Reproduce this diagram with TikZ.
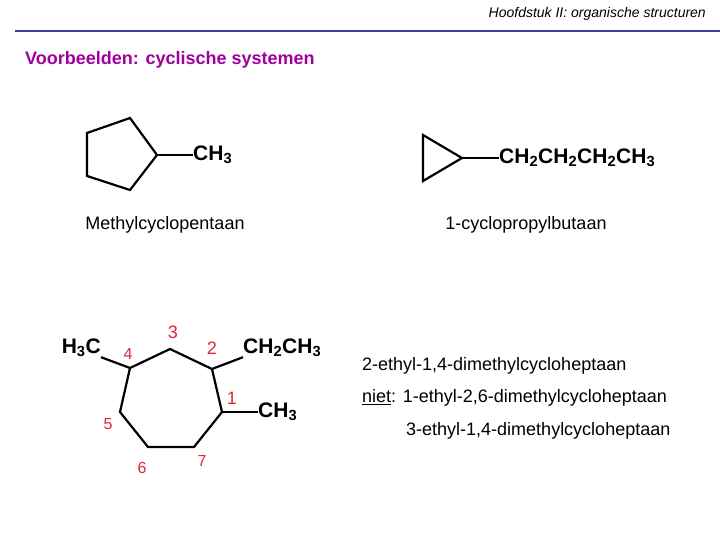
\documentclass[tikz,border=0pt]{standalone}
\usepackage{fontspec}
\setmainfont{Liberation Sans}
\usetikzlibrary{positioning}
\definecolor{numred}{RGB}{220,40,50}
\definecolor{titlepurple}{RGB}{160,0,160}
\definecolor{rulerblue}{RGB}{60,60,170}
\tikzset{bond/.style={line width=2.2pt,line join=miter}}
\tikzset{group/.style={font=\fontsize{21}{21}\selectfont\bfseries,inner sep=0pt}}
\tikzset{num/.style={text=numred,font=\fontsize{18}{18}\selectfont,inner sep=0pt}}
\tikzset{smallnum/.style={num,font=\fontsize{16}{16}\selectfont}}
\tikzset{label/.style={font=\fontsize{18}{18}\selectfont,inner sep=0pt}}
\begin{document}
\begin{tikzpicture}[x=1pt,y=-1pt]
  \useasboundingbox (0,0) rectangle (720,540);
  \node[anchor=east,font=\fontsize{14}{14}\selectfont\itshape,inner sep=0pt] (head) at (706,14) {Hoofdstuk II: organische structuren};
  \draw[rulerblue,line width=1.5pt] (15,31) -- (720,31);
  \node[anchor=west,text=titlepurple,font=\fontsize{18}{18}\selectfont\bfseries,inner sep=0pt] (title) at (25,60) {Voorbeelden: cyclische systemen};
  % cyclopentane
  \coordinate (p1) at (130,118);
  \coordinate (p2) at (87,133);
  \coordinate (p3) at (87,176);
  \coordinate (p4) at (130,190);
  \coordinate (p5) at (157,155);
  \node[group,anchor=west] (me1) at (193,155) {CH\textsubscript{3}};
  \draw[bond] (p1) -- (p2) -- (p3) -- (p4) -- (p5) -- cycle;
  \draw[bond] (p5) -- (me1.west);
  \node[label] (name1) at (165,225) {Methylcyclopentaan};
  % cyclopropane
  \coordinate (t1) at (423,135);
  \coordinate (t2) at (423,181);
  \coordinate (t3) at (462,158);
  \node[group,anchor=west] (bu) at (499,158) {CH\textsubscript{2}CH\textsubscript{2}CH\textsubscript{2}CH\textsubscript{3}};
  \draw[bond] (t1) -- (t2) -- (t3) -- cycle;
  \draw[bond] (t3) -- (bu.west);
  \node[label] (name2) at (526,225) {1-cyclopropylbutaan};
  % cycloheptane
  \coordinate (c1) at (222,412);
  \coordinate (c2) at (212,369);
  \coordinate (c3) at (170,349);
  \coordinate (c4) at (130,368);
  \coordinate (c5) at (120,412);
  \coordinate (c6) at (148,447);
  \coordinate (c7) at (194,447);
  \draw[bond] (c1) -- (c2) -- (c3) -- (c4) -- (c5) -- (c6) -- (c7) -- cycle;
  \node[group,anchor=east] (me4) at (101,348) {H\textsubscript{3}C};
  \node[group,anchor=west] (et) at (243,348) {CH\textsubscript{2}CH\textsubscript{3}};
  \node[group,anchor=west] (me2) at (258,412) {CH\textsubscript{3}};
  \draw[bond] (c4) -- (me4.south east);
  \draw[bond] (c2) -- (et.south west);
  \draw[bond] (c1) -- (me2.west);
  \node[num] (n1) at (232,398) {1};
  \node[num] (n2) at (212,348) {2};
  \node[num] (n3) at (173,332) {3};
  \node[smallnum] (n4) at (128,354) {4};
  \node[smallnum] (n5) at (108,424) {5};
  \node[smallnum] (n6) at (142,468) {6};
  \node[smallnum] (n7) at (202,461) {7};
  \node[label,anchor=west] (name3) at (362,366) {2-ethyl-1,4-dimethylcycloheptaan};
  \node[label,anchor=west] (name4) at (362,398) {\underline{niet}: 1-ethyl-2,6-dimethylcycloheptaan};
  \node[label,anchor=west] (name5) at (406,431) {3-ethyl-1,4-dimethylcycloheptaan};
\end{tikzpicture}
\end{document}
